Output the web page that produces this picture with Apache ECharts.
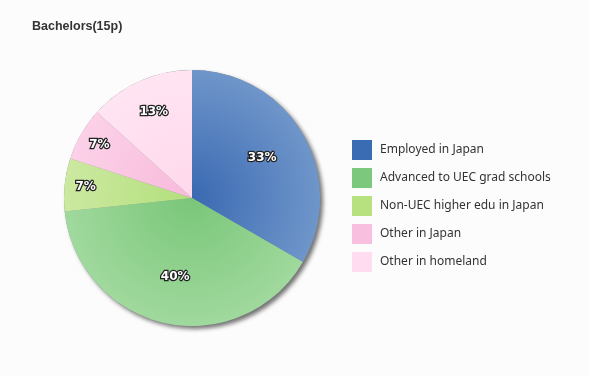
<!DOCTYPE html>
<html>
<head>
<meta charset="utf-8">
<script src="https://cdn.jsdelivr.net/npm/echarts@6/dist/echarts.min.js"></script>
<style>
  html, body { margin: 0; padding: 0; background: #fcfcfc; }
  #chart { width: 589px; height: 376px; }
</style>
</head>
<body>
<div id="chart"></div>
<script>
// 数据
var categories = ["Employed in Japan", "Advanced to UEC grad schools", "Non-UEC higher edu in Japan", "Other in Japan", "Other in homeland"];
var counts = [5, 6, 1, 1, 2];

// 样式
var innerColors = ["#3a69b2", "#79c679", "#b3df7c", "#f8badb", "#ffd8ec"];
var outerColors = ["#6f96ca", "#a0d99d", "#cbe9a0", "#fcd1e8", "#ffe4f2"];
var legendColors = ["#3a6cb4", "#7cc87c", "#b7e07e", "#f9bfdf", "#ffdcef"];
var cx = 192, cy = 198, R = 128;

var chart = echarts.init(document.getElementById("chart"));

var pieData = categories.map(function (name, i) {
  return {
    name: name,
    value: counts[i],
    itemStyle: {
      color: new echarts.graphic.RadialGradient(cx, cy, R, [
        { offset: 0, color: innerColors[i] },
        { offset: 1, color: outerColors[i] }
      ], true)
    }
  };
});

// 标签层（透明扇区，只放百分比文字）
function labelSeries(radius, showIdx) {
  return {
    type: "pie",
    center: [cx, cy],
    radius: [0, radius],
    startAngle: 90,
    clockwise: true,
    silent: true,
    z: 5,
    itemStyle: { color: "transparent" },
    emphasis: { disabled: true },
    labelLine: { show: false },
    data: categories.map(function (name, i) {
      return {
        name: name,
        value: counts[i],
        label: { show: showIdx.indexOf(i) >= 0 }
      };
    }),
    label: {
      position: "inside",
      formatter: function (p) { return Math.round(p.percent) + "%"; },
      color: "#fff",
      fontSize: 12,
      fontWeight: "bold",
      fontFamily: "DejaVu Sans",
      textBorderColor: "#222",
      textBorderWidth: 2.5
    }
  };
}

chart.setOption({
  backgroundColor: "#fcfcfc",
  animation: false,
  title: {
    text: "Bachelors(15p)",
    left: 32,
    top: 20,
    padding: 0,
    textStyle: { fontSize: 12.5, fontWeight: "bold", color: "#333", fontFamily: "Liberation Sans" }
  },
  legend: {
    orient: "vertical",
    left: 352,
    top: 140,
    padding: 0,
    itemWidth: 20,
    itemHeight: 20,
    itemGap: 8,
    icon: "rect",
    textStyle: { fontSize: 12, color: "#333", fontFamily: "Noto Sans", padding: [0, 0, 0, 3] },
    data: categories.map(function (name, i) {
      return { name: name, itemStyle: { color: legendColors[i] } };
    })
  },
  series: [
    {
      type: "pie",
      center: [cx, cy],
      radius: [0, R],
      startAngle: 90,
      clockwise: true,
      z: 3,
      label: { show: false },
      labelLine: { show: false },
      emphasis: { scale: false },
      data: pieData
    },
    {
      // 阴影底盘
      type: "pie",
      center: [cx, cy],
      radius: [0, R],
      silent: true,
      z: 1,
      label: { show: false },
      labelLine: { show: false },
      itemStyle: {
        color: "#888",
        shadowColor: "rgba(0,0,0,0.55)",
        shadowBlur: 4,
        shadowOffsetX: 3,
        shadowOffsetY: 3
      },
      data: [{ name: "_base", value: 1 }]
    },
    labelSeries(156, [0, 1]),
    labelSeries(208, [2, 3]),
    labelSeries(182, [4])
  ]
});
</script>
</body>
</html>
